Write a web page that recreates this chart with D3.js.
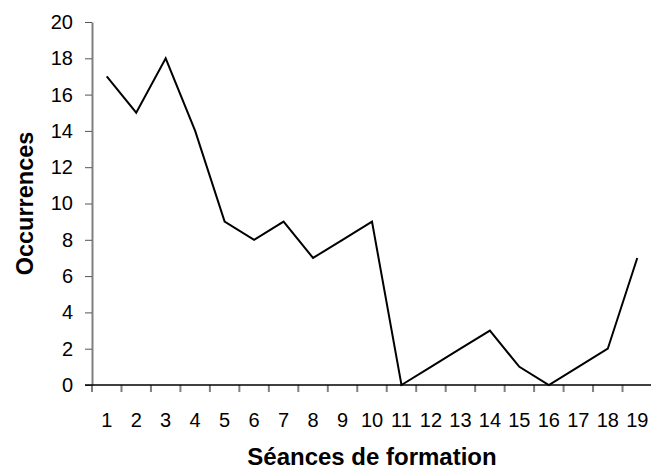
<!DOCTYPE html>
<html><head><meta charset="utf-8">
<script src="https://cdn.jsdelivr.net/npm/d3@7"></script>
<style>body{margin:0;background:#fff}svg{display:block}</style>
</head><body>
<script>
const categories = ["1","2","3","4","5","6","7","8","9","10","11","12","13","14","15","16","17","18","19"];
const values = [17,15,18,14,9,8,9,7,8,9,0,1,2,3,1,0,1,2,7];
const yTicks = [0,2,4,6,8,10,12,14,16,18,20];

const W = 651, H = 471;
const mLeft = 92, mRight = 652, mTop = 22, mBottom = 385;
const svg = d3.select("body").append("svg").attr("width", W).attr("height", H);
const font = "Liberation Sans, Arial, sans-serif";

const x = d3.scaleBand().domain(categories).range([mLeft, mRight]).padding(0);
const y = d3.scaleLinear().domain([0, 20]).range([mBottom, mTop]);

// y axis
const ya = svg.append("g").attr("transform", `translate(${mLeft},0)`)
  .call(d3.axisLeft(y).tickValues(yTicks).tickSize(7).tickSizeOuter(0).tickPadding(12));
ya.select(".domain").attr("stroke", "#808080").attr("stroke-width", 2);
ya.selectAll(".tick line").attr("stroke", "#555").attr("stroke-width", 1);
ya.selectAll(".tick text").attr("font-family", font).attr("font-size", 20).attr("fill", "#000");

// x axis ticks at band boundaries
const bounds = categories.map(c => x(c));
svg.append("g").selectAll("line").data(bounds).join("line")
  .attr("x1", d => d).attr("x2", d => d).attr("y1", mBottom).attr("y2", mBottom + 7)
  .attr("stroke", "#808080").attr("stroke-width", 2);
svg.append("line").attr("x1", mLeft - 7).attr("x2", mRight).attr("y1", mBottom).attr("y2", mBottom)
  .attr("stroke", "#000").attr("stroke-width", 1.3);
svg.append("g").selectAll("text").data(categories).join("text")
  .attr("x", d => x(d) + x.bandwidth() / 2).attr("y", 427)
  .attr("text-anchor", "middle").attr("font-family", font).attr("font-size", 20).text(d => d);

// line
const line = d3.line().x((d, i) => x(categories[i]) + x.bandwidth() / 2).y(d => y(d));
svg.append("path").datum(values).attr("d", line).attr("fill", "none")
  .attr("stroke", "#000").attr("stroke-width", 2).attr("stroke-linejoin", "miter");

// titles
svg.append("text").attr("x", (mLeft + mRight) / 2).attr("y", 465).attr("text-anchor", "middle")
  .attr("font-family", font).attr("font-size", 24).attr("font-weight", "bold").text("Séances de formation");
svg.append("text").attr("transform", `translate(33,${(mTop + mBottom) / 2}) rotate(-90)`)
  .attr("text-anchor", "middle").attr("font-family", font).attr("font-size", 23.5)
  .attr("font-weight", "bold").text("Occurrences");
</script>
</body></html>
